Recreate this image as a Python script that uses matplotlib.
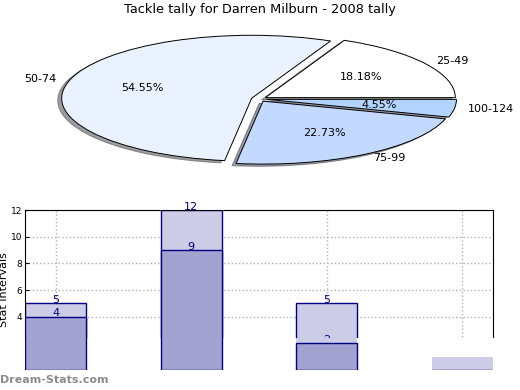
import matplotlib
matplotlib.use("Agg")
import matplotlib.pyplot as plt
from matplotlib.patches import Rectangle

# pie data
ranges = ["25-49", "50-74", "75-99", "100-124"]
tally = [4, 12, 5, 1]
pie_colors = ["#ffffff", "#ebf2ff", "#c4d9ff", "#b3d4ff"]

# bar data
bar_pos = [0, 1, 2, 3]
totals = [5, 12, 5, 1]
inner = [4, 9, 2, 0]

fig = plt.figure(figsize=(5.2, 3.9), dpi=100)

ax1 = fig.add_axes([0, 210 / 390, 1, 160 / 390])
wedges, texts, autotexts = ax1.pie(
    tally, labels=ranges, colors=pie_colors, autopct="%.2f%%",
    startangle=0, explode=[0.04] * 4,
    shadow={"ox": -0.015, "oy": -0.025, "shade": 0.75},
    labeldistance=1.07, pctdistance=0.6,
    wedgeprops={"edgecolor": "black", "linewidth": 0.7},
    textprops={"fontsize": 8})
ax1.set_aspect("auto")
ax1.set_xlim(-1.363, 1.374)
ax1.set_ylim(-1.286, 1.254)
fig.text(0.5, 0.975, "Tackle tally for Darren Milburn - 2008 tally",
         ha="center", va="center", fontsize=9.3)

ax2 = fig.add_axes([25 / 520, 20 / 390, 468 / 520, 160 / 390])
ax2.set_axisbelow(True)
ax2.grid(True, linestyle=":", color="#b0b0b0", linewidth=1)
light = ax2.bar(bar_pos, totals, width=0.45, color="#ccccE6",
                edgecolor="#000080", linewidth=1, zorder=2)
for x, v in zip(bar_pos, totals):
    ax2.text(x, v + 0.25, str(v), ha="center", va="center",
             color="#000080", fontsize=8, zorder=2.55)
for x, v in zip(bar_pos, inner):
    ax2.text(x, v + 0.25, str(v), ha="center", va="center",
             color="#000080", fontsize=8, zorder=2.55)

# white band over the lower part of the plot
band = Rectangle((-0.3, -1), 3.6, 3.4, facecolor="white", edgecolor="none",
                 zorder=2.6, clip_on=False)
ax2.add_patch(band)
refill = ax2.bar(bar_pos, totals, width=0.45, color="#ccccE6",
                 edgecolor="none", zorder=2.7)
for p in refill:
    p.set_clip_path(band)
ax2.bar(bar_pos, inner, width=0.45, color="#a3a3d1",
        edgecolor="#000080", linewidth=1, zorder=3)

ax2.set_xlim(-0.225, 3.225)
ax2.set_ylim(0, 12)
ax2.set_xticks(bar_pos)
ax2.set_xticklabels([])
ax2.set_yticks([2, 4, 6, 8, 10, 12])
ax2.tick_params(axis="y", labelsize=6.5, length=3, direction="in", pad=2)
ax2.tick_params(axis="x", length=0)
ax2.set_ylabel("Stat Intervals", fontsize=8, labelpad=1)
ax2.spines["bottom"].set_visible(False)

fig.text(0.0, 0.025, "Dream-Stats.com", ha="left", va="center",
         fontsize=8, color="#8c8c8c", fontweight="bold")

fig.savefig("out.png", dpi=100)
